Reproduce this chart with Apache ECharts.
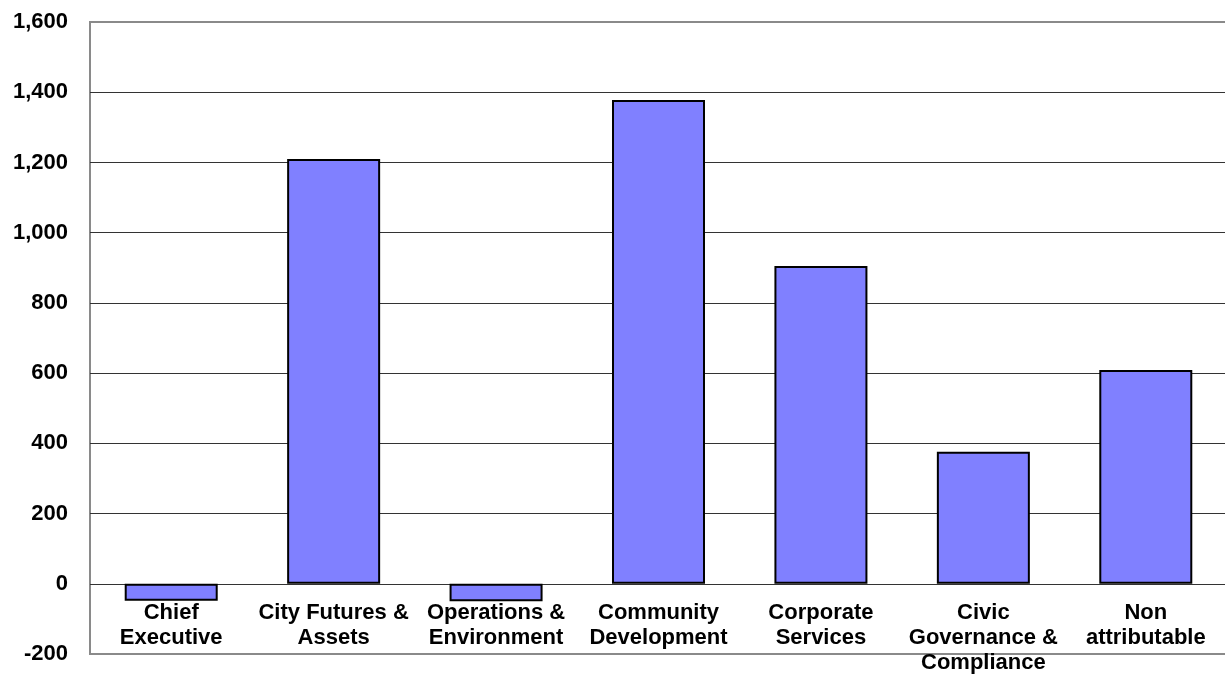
<!DOCTYPE html>
<html>
<head>
<meta charset="utf-8">
<script src="https://cdn.jsdelivr.net/npm/echarts@6/dist/echarts.min.js"></script>
<style>
html,body{margin:0;padding:0;background:#fff;}
#chart{width:1225px;height:674px;}
</style>
</head>
<body>
<div id="chart"></div>
<script>
const categories = ["Chief\nExecutive", "City Futures &\nAssets", "Operations &\nEnvironment", "Community\nDevelopment", "Corporate\nServices", "Civic\nGovernance &\nCompliance", "Non\nattributable"];
const values = [-48, 1210, -50, 1378, 905, 376, 609];
const yMin = -200;
const yMax = 1600;
const yInterval = 200;

const chart = echarts.init(document.getElementById('chart'), null, {renderer: 'canvas'});
const font = 'Liberation Sans, Arial, sans-serif';
chart.setOption({
  animation: false,
  backgroundColor: '#fff',
  grid: {
    left: 90, top: 22, width: 1137, height: 632,
    outerBoundsMode: 'none', containLabel: false,
    show: true, borderColor: '#8a8a8a', borderWidth: 2, backgroundColor: 'transparent'
  },
  xAxis: {
    type: 'category',
    data: categories,
    position: 'bottom',
    axisLine: {show: false, onZero: false},
    axisTick: {show: false},
    axisLabel: {
      interval: 0, margin: -54, color: '#000', fontFamily: font, fontWeight: 'bold',
      fontSize: 22, lineHeight: 25, verticalAlign: 'top'
    },
    splitLine: {show: false}
  },
  yAxis: {
    type: 'value',
    min: yMin, max: yMax, interval: yInterval,
    axisLine: {show: false},
    axisTick: {show: false},
    axisLabel: {
      margin: 22, color: '#000', fontFamily: font, fontWeight: 'bold', fontSize: 22,
      padding: [4, 0, 0, 0],
      formatter: v => v.toLocaleString('en-US')
    },
    splitLine: {show: true, lineStyle: {color: ['#8a8a8a', '#333', '#333', '#333', '#333', '#333', '#333', '#333', '#333', '#8a8a8a'], width: 1}}
  },
  series: [{
    type: 'bar',
    data: values,
    barWidth: 93,
    itemStyle: {color: '#8080FF', borderColor: '#000', borderWidth: 2}
  }]
});
</script>
</body>
</html>
